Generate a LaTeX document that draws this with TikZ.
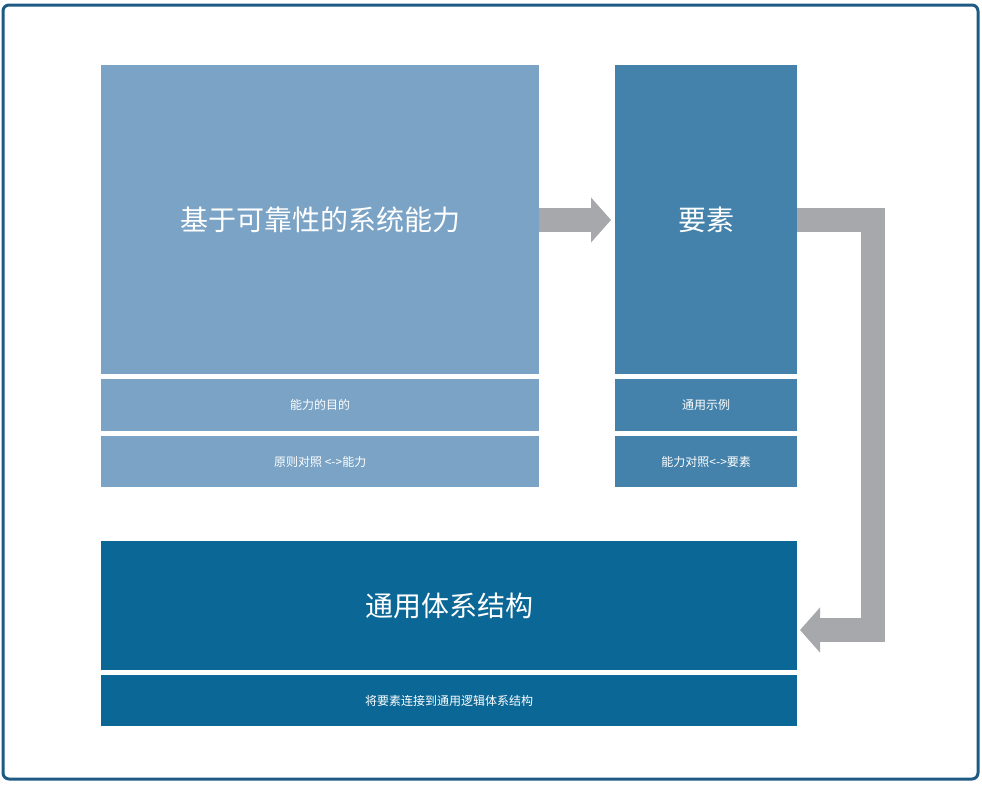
\documentclass[tikz,border=0pt]{standalone}
\usepackage{fontspec}
\setmainfont{Noto Sans CJK SC}
\usetikzlibrary{arrows.meta, positioning}
\definecolor{frameblue}{HTML}{1F5A84}
\definecolor{lightblue}{HTML}{7AA3C5}
\definecolor{midblue}{HTML}{4482AB}
\definecolor{darkblue}{HTML}{0B6795}
\definecolor{arrowgray}{HTML}{A7A8AB}
\tikzset{
  block/.style={
    rectangle,
    inner sep=0pt,
    text=white,
    anchor=north west
  },
  flow/.style={
    draw=arrowgray,
    line width=24pt,
    -{Triangle[length=20pt,width=44pt]}
  }
}

\begin{document}
\begin{tikzpicture}[x=1pt, y=-1pt]
  \useasboundingbox (0,0) rectangle (982,785);
  \draw[frameblue, line width=3pt, rounded corners=6pt] (3,5) rectangle (978,779);

  \node[block, fill=lightblue, minimum width=438pt, minimum height=309pt, font=\fontsize{28}{32}\selectfont] (cap) at (101,65) {基于可靠性的系统能力};
  \node[block, fill=lightblue, minimum width=438pt, minimum height=52pt, font=\fontsize{12}{14}\selectfont] (purpose) at (101,379) {能力的目的};
  \node[block, fill=lightblue, minimum width=438pt, minimum height=51pt, font=\fontsize{12}{14}\selectfont] (principle) at (101,436) {原则对照 <->能力};

  \node[block, fill=midblue, minimum width=182pt, minimum height=309pt, font=\fontsize{28}{32}\selectfont] (elem) at (615,65) {要素};
  \node[block, fill=midblue, minimum width=182pt, minimum height=52pt, font=\fontsize{12}{14}\selectfont] (example) at (615,379) {通用示例};
  \node[block, fill=midblue, minimum width=182pt, minimum height=51pt, font=\fontsize{12}{14}\selectfont] (mapping) at (615,436) {能力对照<->要素};

  \node[block, fill=darkblue, minimum width=696pt, minimum height=129pt, font=\fontsize{28}{32}\selectfont] (arch) at (101,541) {通用体系结构};
  \node[block, fill=darkblue, minimum width=696pt, minimum height=51pt, font=\fontsize{12}{14}\selectfont] (link) at (101,675) {将要素连接到通用逻辑体系结构};

  % connectors
  \coordinate (turn) at (873,220);
  \coordinate (archin) at (800,630);
  \draw[flow] (539,220) -- (611,220);
  \draw[flow, miter limit=10] (797,220) -- (turn) |- (archin);
\end{tikzpicture}
\end{document}
